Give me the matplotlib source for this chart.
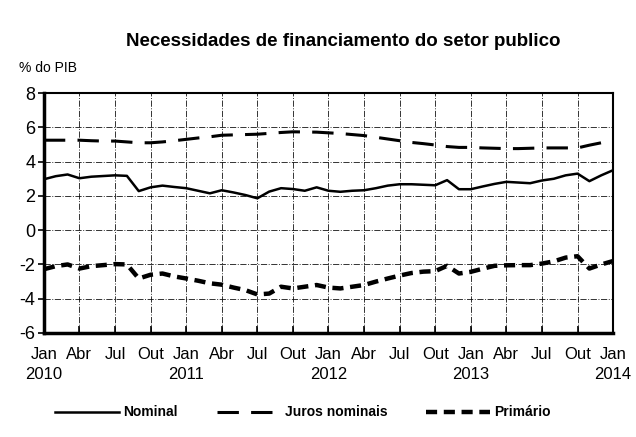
import numpy as np
import matplotlib.pyplot as plt

# monthly data, Jan 2010 .. Jan 2014 (% do PIB)
nominal = [2.97, 3.15, 3.25, 3.03, 3.12, 3.16, 3.2, 3.17, 2.28, 2.5,
           2.6, 2.52, 2.45, 2.3, 2.15, 2.33, 2.2, 2.05, 1.86, 2.25,
           2.45, 2.4, 2.3, 2.5, 2.3, 2.24, 2.3, 2.33, 2.45, 2.6,
           2.68, 2.68, 2.65, 2.62, 2.92, 2.39, 2.39, 2.55, 2.7, 2.82,
           2.78, 2.74, 2.9, 3.0, 3.2, 3.3, 2.86, 3.2, 3.5]
juros = [5.25, 5.25, 5.25, 5.25, 5.22, 5.2, 5.2, 5.15, 5.1, 5.1,
         5.15, 5.22, 5.3, 5.38, 5.45, 5.54, 5.56, 5.58, 5.6, 5.65,
         5.7, 5.74, 5.73, 5.72, 5.68, 5.64, 5.58, 5.52, 5.42, 5.32,
         5.22, 5.12, 5.05, 4.97, 4.88, 4.83, 4.83, 4.8, 4.78, 4.76,
         4.76, 4.78, 4.8, 4.8, 4.8, 4.8, 4.96, 5.1, 5.22]
primario = [-2.28, -2.1, -2.0, -2.24, -2.1, -2.04, -1.98, -2.0, -2.82, -2.6,
            -2.53, -2.7, -2.82, -2.95, -3.1, -3.18, -3.35, -3.5, -3.75, -3.7,
            -3.3, -3.4, -3.3, -3.2, -3.35, -3.4, -3.3, -3.2, -3.0, -2.82,
            -2.65, -2.5, -2.42, -2.39, -2.08, -2.53, -2.43, -2.25, -2.08, -2.05,
            -2.04, -2.04, -1.95, -1.82, -1.6, -1.52, -2.24, -2.0, -1.8]

month_names = ['Jan', 'Abr', 'Jul', 'Out']
years = [2010, 2011, 2012, 2013, 2014]
yticks = [-6, -4, -2, 0, 2, 4, 6, 8]

plt.rcParams['font.family'] = ['Liberation Sans', 'DejaVu Sans']

months = np.arange(len(nominal))

fig = plt.figure(figsize=(6.36, 4.37), dpi=100)
ax = fig.add_axes([0.069, 0.238, 0.895, 0.549])

ax.plot(months, nominal, color='black', lw=1.8, label='Nominal')
ax.plot(months, juros, color='black', lw=2.2, dashes=(7, 4), label='Juros nominais')
ax.plot(months, primario, color='black', lw=3.2, dashes=(2.5, 1.5), label='Primário')

ax.set_xlim(0, 48)
ax.set_ylim(-6, 8)
ax.set_yticks(yticks)
ax.set_yticklabels([str(v) for v in yticks], fontsize=13)

qpos = np.arange(0, 49, 3)
qlabels = []
for i in range(len(qpos)):
    name = month_names[i % 4]
    if i % 4 == 0:
        name += '\n' + str(years[i // 4])
    qlabels.append(name)
ax.set_xticks(qpos)
ax.set_xticklabels(qlabels, fontsize=12, linespacing=1.4)

ax.tick_params(axis='x', direction='in', length=5, width=1.2, pad=10)
ax.tick_params(axis='y', direction='out', length=4, width=1.2, pad=2)
ax.grid(True, color='black', lw=0.7, ls='-.', alpha=0.8)

for s in ['left', 'bottom']:
    ax.spines[s].set_linewidth(2.5)
for s in ['top', 'right']:
    ax.spines[s].set_linewidth(1.5)

fig.text(0.54, 0.905, 'Necessidades de financiamento do setor publico',
         ha='center', va='center', fontsize=13.5, fontweight='bold')
fig.text(0.03, 0.845, '% do PIB', ha='left', va='center', fontsize=10)

ax.legend(loc='upper center', bbox_to_anchor=(0.455, -0.25), ncol=3, frameon=False,
          prop={'weight': 'bold', 'size': 10}, handlelength=4.6, columnspacing=2.8,
          handletextpad=0.3)

fig.savefig('out.png', dpi=100)
